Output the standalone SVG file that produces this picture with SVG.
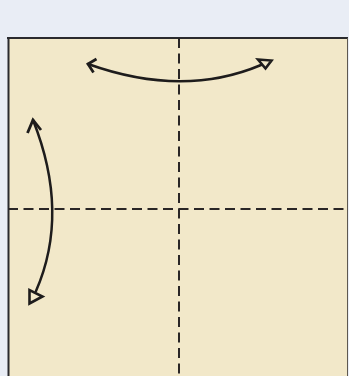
<svg xmlns="http://www.w3.org/2000/svg" width="349" height="376" viewBox="0 0 349 376">
<style>
.fold{stroke:#2a2626;stroke-width:2;stroke-dasharray:10 5.5;fill:none}
.arc{stroke:#1e1c1c;stroke-width:2.5;fill:none;stroke-linecap:round}
.head{stroke:#1e1c1c;stroke-width:2.8;fill:none;stroke-linejoin:miter}
.hollow{stroke:#1e1c1c;stroke-width:2.6;fill:#f2e8c9;stroke-linejoin:miter}
</style>
<rect x="0" y="0" width="349" height="376" fill="#e9edf5"/>
<g id="paper">
<rect x="8" y="38" width="340" height="340" fill="#f2e8c9"/>
<line x1="7" y1="38" x2="348" y2="38" stroke="#2a2a2e" stroke-width="2"/>
<line x1="8.5" y1="37" x2="8.5" y2="376" stroke="#2a2a2e" stroke-width="2"/>
<line x1="347.5" y1="38" x2="347.5" y2="376" stroke="#5e5850" stroke-width="1"/>
</g>
<g id="connectors">
<line class="fold" x1="179" y1="38" x2="179" y2="376"/>
<line class="fold" x1="8" y1="209" x2="348" y2="209"/>
<g id="arrow-top">
<path class="arc" d="M88,64 Q183,98 261,65"/>
<path class="head" d="M96.5,59 L88,64 L93.5,72.5"/>
<polygon class="hollow" points="258,59.5 271.5,60.5 265.5,68.5"/>
</g>
<g id="arrow-left">
<path class="arc" d="M33,120 Q70,213 36,291"/>
<path class="head" d="M27.5,133 L33,120 L41,130"/>
<polygon class="hollow" points="29.5,290 29.5,303.5 42.5,296.5"/>
</g>
</g>
</svg>
